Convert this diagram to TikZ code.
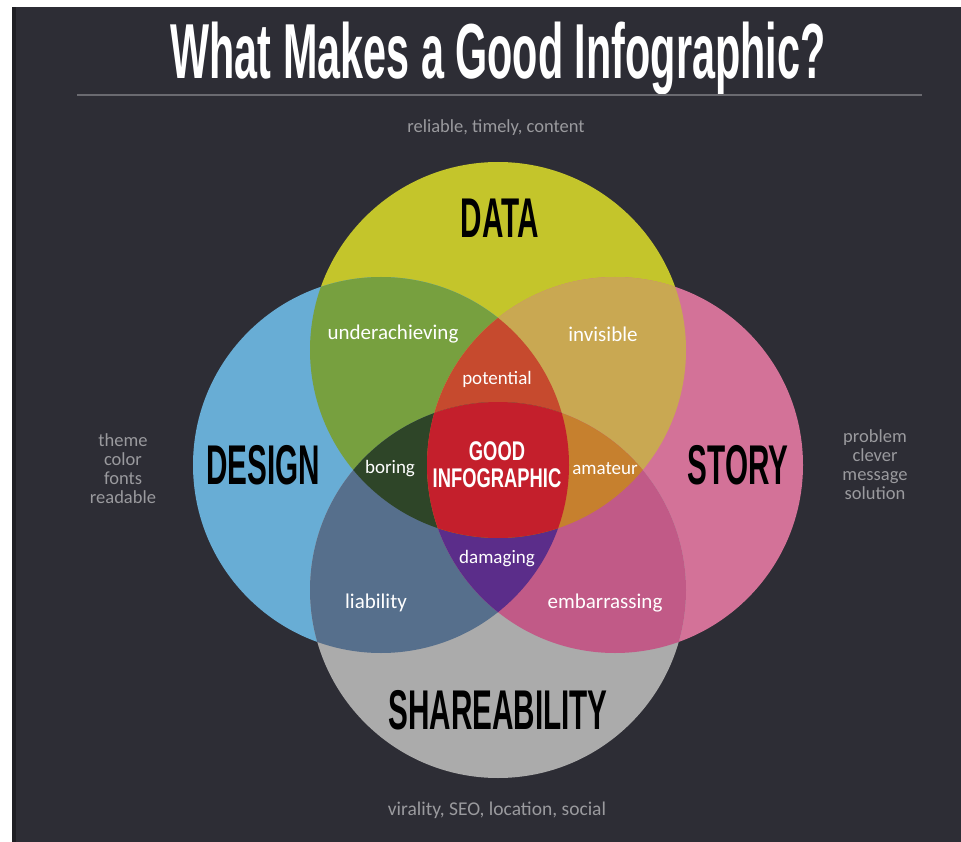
\documentclass[tikz,border=0pt]{standalone}
\usepackage{fontspec}
\setmainfont{Carlito}
\newfontfamily\headfont[FakeStretch=0.53]{Liberation Sans}
\newfontfamily\goodfont[FakeStretch=0.68]{Liberation Sans}

% --- Colours ---
\definecolor{panelbg}{HTML}{2D2D35}
\definecolor{paneledge}{HTML}{1F1F24}
\definecolor{greytext}{HTML}{9A9A9E}
\definecolor{rulegrey}{HTML}{6A6A70}
\definecolor{datacol}{HTML}{C4C52B}
\definecolor{designcol}{HTML}{68ADD5}
\definecolor{storycol}{HTML}{D37298}
\definecolor{sharecol}{HTML}{ABABAB}
\definecolor{dataDesign}{HTML}{77A03F}
\definecolor{dataStory}{HTML}{C9A852}
\definecolor{designShare}{HTML}{566F8C}
\definecolor{storyShare}{HTML}{C15A87}
\definecolor{potentialcol}{HTML}{C64A2E}
\definecolor{boringcol}{HTML}{2E4528}
\definecolor{amateurcol}{HTML}{C6802E}
\definecolor{damagingcol}{HTML}{5B2D8A}
\definecolor{goodcol}{HTML}{C41F2C}

\tikzset{
    setname/.style={font=\headfont\bfseries\fontsize{56}{56}\selectfont, text=black},
    region/.style={font=\fontsize{21}{21}\selectfont, text=white},
    inner/.style={font=\fontsize{19}{19}\selectfont, text=white},
    goodtext/.style={font=\goodfont\bfseries\fontsize{27}{27}\selectfont, text=white, inner sep=0pt},
    aside/.style={font=\fontsize{18.5}{19}\selectfont, text=greytext, align=center},
}

\begin{document}
\begin{tikzpicture}[x=1pt, y=-1pt]

    % --- Canvas ---
    \useasboundingbox (0,0) rectangle (961,842);
    \fill[white] (0,0) rectangle (961,842);
    \fill[panelbg] (12,7) rectangle (961,842);
    \fill[paneledge] (12,7) rectangle (16,842);

    % --- Title ---
    \node[font=\headfont\bfseries\fontsize{78}{78}\selectfont, text=white] (title) at (498,59) {What Makes a Good Infographic?};
    \coordinate (ruleL) at (77,95);
    \coordinate (ruleR) at (922,95);
    \draw[rulegrey, line width=1.2pt] (ruleL) -- (ruleR);

    % --- Circle centres (radius 188) ---
    \def\rad{188pt}
    \coordinate (Data) at (498,350);
    \coordinate (Design) at (381,465);
    \coordinate (Story) at (615,465);
    \coordinate (Share) at (498,590);

    % --- Single sets ---
    \fill[datacol] (Data) circle[radius=\rad];
    \fill[designcol] (Design) circle[radius=\rad];
    \fill[storycol] (Story) circle[radius=\rad];
    \fill[sharecol] (Share) circle[radius=\rad];

    % --- Two sets ---
    \begin{scope}
        \clip (Data) circle[radius=\rad];
        \fill[dataDesign] (Design) circle[radius=\rad];
        \fill[dataStory] (Story) circle[radius=\rad];
    \end{scope}
    \begin{scope}
        \clip (Share) circle[radius=\rad];
        \fill[designShare] (Design) circle[radius=\rad];
        \fill[storyShare] (Story) circle[radius=\rad];
    \end{scope}

    % --- Three sets ---
    \begin{scope}
        \clip (Design) circle[radius=\rad];
        \clip (Story) circle[radius=\rad];
        \fill[potentialcol] (Data) circle[radius=\rad];
        \fill[damagingcol] (Share) circle[radius=\rad];
    \end{scope}
    \begin{scope}
        \clip (Data) circle[radius=\rad];
        \clip (Share) circle[radius=\rad];
        \fill[boringcol] (Design) circle[radius=\rad];
        \fill[amateurcol] (Story) circle[radius=\rad];
    \end{scope}

    % --- All four ---
    \begin{scope}
        \clip (Data) circle[radius=\rad];
        \clip (Share) circle[radius=\rad];
        \clip (Design) circle[radius=\rad];
        \fill[goodcol] (Story) circle[radius=\rad];
    \end{scope}

    % --- Set names ---
    \node[setname] (dataname) at (500,218) {DATA};
    \node[setname] (designname) at (263,465) {DESIGN};
    \node[setname] (storyname) at (738,465) {STORY};
    \node[setname] (sharename) at (498,710) {SHAREABILITY};

    % --- Overlap labels ---
    \node[region] (under) at (393,334) {underachieving};
    \node[region] (invis) at (603,334) {invisible};
    \node[inner] (potential) at (497,379) {potential};
    \node[inner] (boring) at (390,469) {boring};
    \node[inner] (amateur) at (605,469) {amateur};
    \node[inner] (damaging) at (497,559) {damaging};
    \node[region] (liability) at (376,603) {liability};
    \node[region] (embarr) at (605,603) {embarrassing};
    \node[goodtext] (good) at (497,451) {GOOD};
    \node[goodtext] (infographic) at (497,478) {INFOGRAPHIC};

    % --- Side notes ---
    \node[aside] (datanote) at (496,128) {reliable, timely, content};
    \node[aside] (designnote) at (123,469) {theme\\color\\fonts\\readable};
    \node[aside] (storynote) at (875,465) {problem\\clever\\message\\solution};
    \node[aside, font=\fontsize{19.5}{19.5}\selectfont] (sharenote) at (497,810) {virality, SEO, location, social};

\end{tikzpicture}
\end{document}
